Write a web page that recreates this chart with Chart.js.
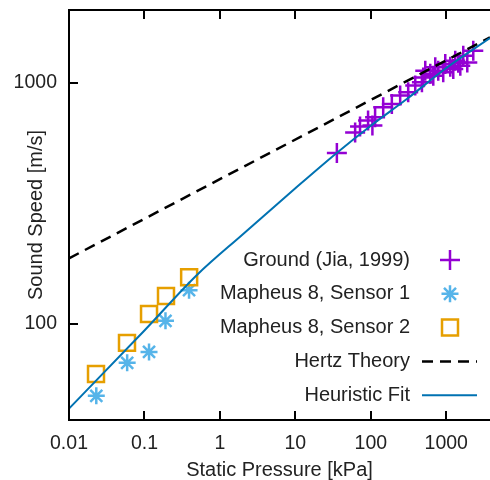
<!doctype html>
<html>
<head>
  <meta charset="utf-8">
  <script src="https://cdn.jsdelivr.net/npm/chart.js@4.4.0/dist/chart.umd.min.js"></script>
  <style>
    html, body { margin: 0; padding: 0; background: #fff; }
  </style>
</head>
<body>
  <canvas id="myChart" width="490" height="480"></canvas>
  <script>
    // values (kPa, m/s)
    const groundP = [35.5, 62, 72, 92, 105, 114, 146, 190, 245, 313, 388, 476, 495, 527, 614, 673, 715, 783, 912, 970, 1130, 1239, 1316, 1442, 1535, 1680, 1900, 2281];
    const groundV = [511, 621, 658, 697, 665, 719, 790, 816, 884, 912, 972, 1003, 1051, 1121, 1089, 1069, 1157, 1121, 1103, 1194, 1165, 1139, 1233, 1210, 1176, 1294, 1213, 1356];
    const sensor1P = [0.023, 0.059, 0.115, 0.19, 0.39];
    const sensor1V = [50.4, 69, 76.6, 103, 138];
    const sensor2P = [0.0228, 0.0587, 0.115, 0.193, 0.391];
    const sensor2V = [62, 83.5, 110, 130.5, 156];
    const hertzP = [0.01, 3800];
    const hertzV = [187, 1540];
    const fitP = [0.01, 0.1, 0.5, 2, 10, 35, 100, 300, 1000, 3800];
    const fitV = [44.6, 94, 160, 235, 365, 510, 663, 855, 1150, 1530];
    const xTicks = [0.01, 0.1, 1, 10, 100, 1000];
    const yTicks = [100, 1000];

    const textColor = '#222';
    const family = '"Liberation Sans", Arial, sans-serif';
    const font = { family, size: 20 };
    const tickFont = { family, size: 19.5 };

    function pts(xs, ys) {
      return xs.map((x, i) => ({ x, y: ys[i] }));
    }

    const datasets = [
      {
        label: 'Ground (Jia, 1999)', data: pts(groundP, groundV), order: 4,
        pointStyle: 'cross', pointRadius: 10, borderWidth: 2.5, pointBorderWidth: 2.5,
        borderColor: '#9400D3', backgroundColor: '#9400D3', showLine: false
      },
      {
        label: 'Mapheus 8, Sensor 1', data: pts(sensor1P, sensor1V), order: 3,
        pointStyle: 'star', pointRadius: 8.5, borderWidth: 2.5, pointBorderWidth: 2.5,
        borderColor: '#56B4E9', backgroundColor: '#56B4E9', showLine: false
      },
      {
        label: 'Mapheus 8, Sensor 2', data: pts(sensor2P, sensor2V), order: 2,
        pointStyle: 'rect', pointRadius: 11.3, borderWidth: 2.5, pointBorderWidth: 2.5,
        borderColor: '#E69F00', backgroundColor: 'rgba(0,0,0,0)', showLine: false
      },
      {
        label: 'Hertz Theory', data: pts(hertzP, hertzV), order: 1,
        showLine: true, pointRadius: 0, borderWidth: 2.5, borderColor: '#000',
        borderDash: [11, 7]
      },
      {
        label: 'Heuristic Fit', data: pts(fitP, fitV), order: 0,
        showLine: true, pointRadius: 0, borderWidth: 2, borderColor: '#0072B2',
        cubicInterpolationMode: 'monotone'
      }
    ];

    function drawMarker(ctx, ds, cx, cy) {
      ctx.save();
      ctx.strokeStyle = ds.borderColor;
      ctx.lineWidth = ds.borderWidth;
      ctx.beginPath();
      if (ds.showLine) {
        ctx.setLineDash(ds.borderDash || []);
        ctx.moveTo(cx - 28, cy);
        ctx.lineTo(cx + 27, cy);
      } else if (ds.pointStyle === 'cross') {
        const r = ds.pointRadius;
        ctx.moveTo(cx - r, cy); ctx.lineTo(cx + r, cy);
        ctx.moveTo(cx, cy - r); ctx.lineTo(cx, cy + r);
      } else if (ds.pointStyle === 'star') {
        const r = ds.pointRadius;
        const d = r * Math.SQRT1_2;
        ctx.moveTo(cx - r, cy); ctx.lineTo(cx + r, cy);
        ctx.moveTo(cx, cy - r); ctx.lineTo(cx, cy + r);
        ctx.moveTo(cx - d, cy - d); ctx.lineTo(cx + d, cy + d);
        ctx.moveTo(cx - d, cy + d); ctx.lineTo(cx + d, cy - d);
      } else {
        const s = ds.pointRadius * Math.SQRT1_2;
        ctx.rect(cx - s, cy - s, 2 * s, 2 * s);
      }
      ctx.stroke();
      ctx.restore();
    }

    // no extra room for the outer tick labels, the plot runs off the right edge
    function noPadding(s) {
      s.paddingTop = 0;
      s.paddingBottom = 0;
      s.paddingLeft = 0;
      s.paddingRight = 0;
    }

    const framePlugin = {
      id: 'frame',
      afterDraw: (chart) => {
        const ctx = chart.ctx;
        const a = chart.chartArea;
        const x = chart.scales.x;
        const y = chart.scales.y;
        ctx.save();
        ctx.strokeStyle = '#000';
        ctx.lineWidth = 2;
        ctx.beginPath();
        ctx.moveTo(a.right + 5, a.top);
        ctx.lineTo(a.left, a.top);
        ctx.lineTo(a.left, a.bottom);
        ctx.lineTo(a.right + 5, a.bottom);
        xTicks.forEach(v => {
          const px = Math.round(x.getPixelForValue(v));
          ctx.moveTo(px, a.bottom); ctx.lineTo(px, a.bottom - 9);
          ctx.moveTo(px, a.top); ctx.lineTo(px, a.top + 9);
        });
        yTicks.forEach(v => {
          const py = Math.round(y.getPixelForValue(v));
          ctx.moveTo(a.left, py); ctx.lineTo(a.left + 9, py);
        });
        ctx.stroke();

        // legend, text right-aligned with sample on the right
        ctx.font = font.size + 'px ' + font.family;
        ctx.fillStyle = textColor;
        ctx.textAlign = 'right';
        ctx.textBaseline = 'middle';
        chart.data.datasets.forEach((ds, i) => {
          const ly = 260 + i * 33.8;
          ctx.fillText(ds.label, 410, ly);
          drawMarker(ctx, ds, 450, ly);
        });
        ctx.restore();
      }
    };

    const ctx = document.getElementById('myChart').getContext('2d');
    const myChart = new Chart(ctx, {
      type: 'scatter',
      data: { datasets },
      options: {
        responsive: false,
        animation: false,
        layout: { autoPadding: false, padding: { top: 10, right: 0, bottom: 0, left: 0 } },
        plugins: { legend: { display: false }, tooltip: { enabled: false } },
        scales: {
          x: {
            type: 'logarithmic',
            min: 0.01,
            max: 3800,
            afterBuildTicks: (s) => { s.ticks = xTicks.map(v => ({ value: v })); },
            afterFit: (s) => { s.height = 60; noPadding(s); },
            grid: { display: false, drawTicks: false },
            border: { display: false },
            ticks: { padding: 12, color: textColor, font: tickFont, maxRotation: 0, autoSkip: false, callback: v => String(v) },
            title: { display: true, text: 'Static Pressure [kPa]', color: textColor, font: { ...font, lineHeight: 1 }, padding: 0 }
          },
          y: {
            type: 'logarithmic',
            min: 40,
            max: 2000,
            afterBuildTicks: (s) => { s.ticks = yTicks.map(v => ({ value: v })); },
            afterFit: (s) => { s.width = 69; noPadding(s); },
            grid: { display: false, drawTicks: false },
            border: { display: false },
            ticks: { padding: 12, color: textColor, font: tickFont, autoSkip: false, callback: v => String(v) },
            title: { display: true, text: 'Sound Speed [m/s]', color: textColor, font: { ...font, lineHeight: 1 }, padding: { top: 26, bottom: 0 } }
          }
        }
      },
      plugins: [framePlugin]
    });
  </script>
</body>
</html>
